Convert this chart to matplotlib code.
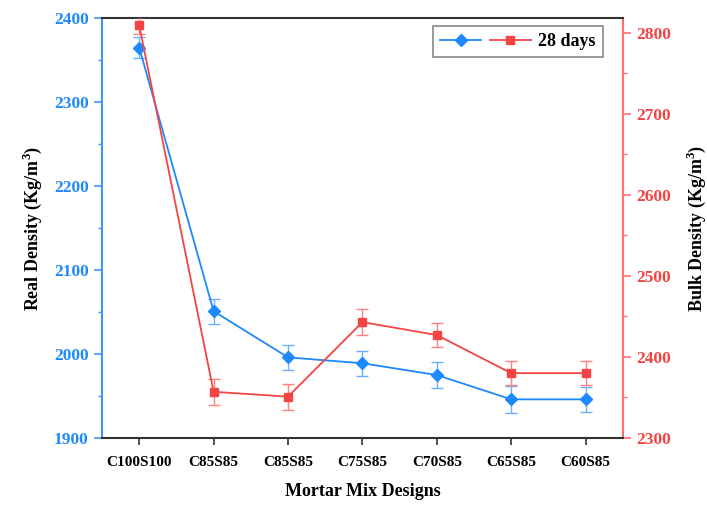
import numpy as np
import matplotlib
matplotlib.use('Agg')
import matplotlib.pyplot as plt
from matplotlib.ticker import MultipleLocator
from matplotlib.legend_handler import HandlerTuple

plt.rcParams['font.family'] = ['Liberation Serif', 'DejaVu Serif']
plt.rcParams['font.weight'] = 'bold'
plt.rcParams['mathtext.fontset'] = 'custom'
plt.rcParams['mathtext.rm'] = 'Liberation Serif:bold'
plt.rcParams['mathtext.bf'] = 'Liberation Serif:bold'

#%% data
mixes = ['C100S100', 'C85S85', 'C85S85', 'C75S85', 'C70S85', 'C65S85', 'C60S85']
real_density = [2365, 2051, 1996, 1989, 1975, 1946, 1946]
real_err = [13, 15, 15, 15, 15, 16, 15]
bulk_density = [2809, 2357, 2351, 2443, 2427, 2380, 2380]
bulk_err = [10, 16, 16, 16, 15, 15, 15]

blue = '#1E88FF'
red = '#F44444'
blue_ax = '#3C96FF'
red_ax = '#FF6E6E'

x = np.arange(len(mixes))

#%% plot
fig = plt.figure(figsize=(7.07, 5.05), dpi=100)
ax = fig.add_axes([0.1443, 0.1327, 0.7367, 0.8313])
ax2 = ax.twinx()

l1 = ax.errorbar(x, real_density, yerr=real_err, color=blue, marker='D', ms=6,
                 lw=1.3, elinewidth=1.0, capsize=4, ecolor='#6AAFFF', zorder=3)
l2 = ax2.errorbar(x, bulk_density, yerr=bulk_err, color=red, marker='s', ms=6,
                  lw=1.3, elinewidth=1.0, capsize=4, ecolor='#FF8080', zorder=3)

ax.set_xlim(-0.5, 6.5)
ax.set_ylim(1900, 2400)
ax2.set_ylim(2300, 2818)

ax.set_xticks(x)
ax.set_xticklabels(mixes, fontsize=11, fontweight='bold')
ax.yaxis.set_major_locator(MultipleLocator(100))
ax.yaxis.set_minor_locator(MultipleLocator(50))
ax2.yaxis.set_major_locator(MultipleLocator(100))
ax2.yaxis.set_minor_locator(MultipleLocator(50))

ax.tick_params(axis='x', direction='out', length=5, width=1.2, color='#333333', pad=8)
ax.tick_params(axis='y', which='major', direction='out', length=6, width=1.2,
               colors=blue_ax, labelcolor=blue, labelsize=12.5)
ax.tick_params(axis='y', which='minor', direction='out', length=3, width=1.0, colors=blue_ax)
ax2.tick_params(axis='y', which='major', direction='out', length=6, width=1.2,
                colors=red_ax, labelcolor=red, labelsize=12.5)
ax2.tick_params(axis='y', which='minor', direction='out', length=3, width=1.0, colors=red_ax)
for lab in ax.get_yticklabels() + ax2.get_yticklabels():
    lab.set_fontweight('bold')

ax2.spines['left'].set_color(blue_ax)
ax2.spines['right'].set_color(red_ax)
ax2.spines['top'].set_color('#333333')
ax2.spines['bottom'].set_color('#333333')
for s in ['left', 'right', 'top', 'bottom']:
    ax2.spines[s].set_linewidth(1.5)
    ax.spines[s].set_visible(False)

ax.set_xlabel('Mortar Mix Designs', fontsize=13, fontweight='bold', labelpad=10)
ax.set_ylabel(r'Real Density (Kg/m$^{3}$)', fontsize=13, fontweight='bold', labelpad=7)
ax2.set_ylabel(r'Bulk Density (Kg/m$^{3}$)', fontsize=13, fontweight='bold', labelpad=10)

leg = ax2.legend([(l1.lines[0], l2.lines[0])], ['28 days'],
                 handler_map={tuple: HandlerTuple(ndivide=None, pad=0.5)},
                 loc='upper right', bbox_to_anchor=(0.968, 0.99), handlelength=5.0,
                 fancybox=False, edgecolor='#888888', framealpha=1,
                 prop={'size': 13, 'weight': 'bold'}, borderpad=0.4, handletextpad=0.4,
                 borderaxespad=0.2)
leg.get_frame().set_linewidth(1.2)

fig.savefig('out.png', dpi=100)
